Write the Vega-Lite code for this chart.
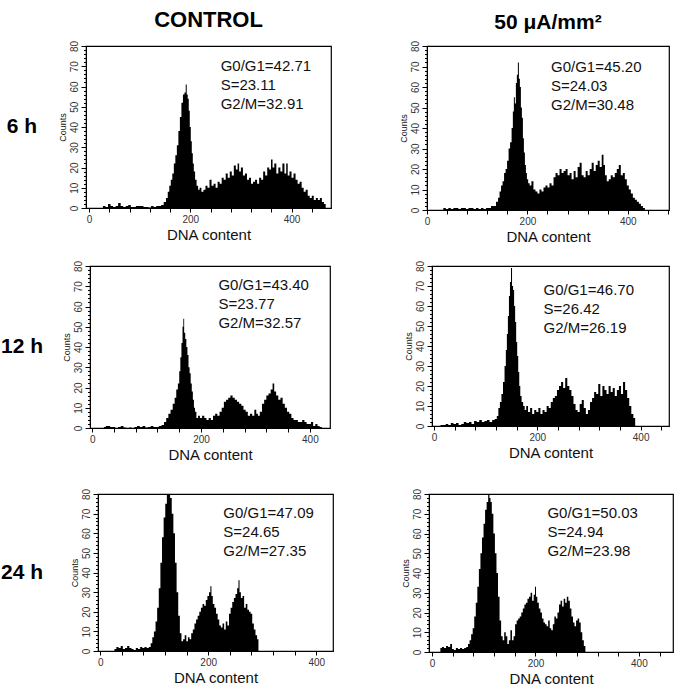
{
"$schema": "https://vega.github.io/schema/vega-lite/v6.json",
"background": "white",
"padding": {"left": 0, "top": 8, "right": 5, "bottom": 5},
"config": {
 "font": "Liberation Sans",
 "view": {"stroke": "black", "strokeWidth": 1.2},
 "axis": {"domainColor": "black", "tickColor": "black", "labelColor": "#333", "titleColor": "#111", "labelFontSize": 10, "grid": false, "titleFontWeight": "normal", "labelFont": "Liberation Sans", "titleFont": "Liberation Sans"},
 "axisY": {"titleFontSize": 9, "titlePadding": 2, "labelPadding": 2},
 "axisX": {"titleFontSize": 15, "titlePadding": 3, "labelPadding": 2},
 "title": {"fontWeight": "bold", "color": "black", "font": "Liberation Sans"}
},
"datasets": {
 "A": [{"x":25,"y":0},{"x":30,"y":1},{"x":35,"y":0.5},{"x":40,"y":2},{"x":45,"y":1},{"x":50,"y":0.5},{"x":55,"y":1},{"x":60,"y":2.5},{"x":65,"y":1},{"x":70,"y":0.5},{"x":75,"y":1},{"x":80,"y":1.5},{"x":85,"y":0.5},{"x":90,"y":0.5},{"x":95,"y":1},{"x":100,"y":1},{"x":105,"y":1},{"x":110,"y":0.5},{"x":115,"y":0.5},{"x":120,"y":0.2},{"x":125,"y":1},{"x":130,"y":0.5},{"x":135,"y":1},{"x":140,"y":1},{"x":145,"y":1.5},{"x":150,"y":3},{"x":154,"y":5},{"x":157,"y":8},{"x":160,"y":11},{"x":163,"y":14},{"x":166,"y":17},{"x":169,"y":22},{"x":172,"y":26},{"x":175,"y":31},{"x":178,"y":38},{"x":181,"y":45},{"x":184,"y":52},{"x":187,"y":56},{"x":190,"y":57},{"x":192,"y":61},{"x":194,"y":56},{"x":196,"y":54},{"x":198,"y":48},{"x":200,"y":40},{"x":202,"y":33},{"x":204,"y":27},{"x":206,"y":22},{"x":208,"y":18},{"x":211,"y":14},{"x":214,"y":11},{"x":217,"y":9},{"x":220,"y":10},{"x":224,"y":8},{"x":228,"y":9},{"x":232,"y":11},{"x":236,"y":10},{"x":240,"y":14},{"x":244,"y":11},{"x":248,"y":12},{"x":252,"y":10},{"x":256,"y":13},{"x":260,"y":12},{"x":264,"y":15},{"x":268,"y":14},{"x":272,"y":17},{"x":276,"y":15},{"x":280,"y":18},{"x":284,"y":16},{"x":288,"y":21},{"x":292,"y":19},{"x":295,"y":22},{"x":298,"y":18},{"x":302,"y":20},{"x":306,"y":16},{"x":310,"y":17},{"x":314,"y":14},{"x":318,"y":15},{"x":322,"y":12},{"x":326,"y":13},{"x":330,"y":14},{"x":334,"y":12},{"x":338,"y":15},{"x":342,"y":14},{"x":346,"y":18},{"x":350,"y":16},{"x":354,"y":20},{"x":358,"y":19},{"x":361,"y":24},{"x":364,"y":20},{"x":368,"y":22},{"x":372,"y":17},{"x":376,"y":20},{"x":380,"y":18},{"x":384,"y":22},{"x":388,"y":17},{"x":391,"y":22},{"x":394,"y":16},{"x":398,"y":18},{"x":402,"y":15},{"x":406,"y":17},{"x":410,"y":14},{"x":414,"y":12},{"x":418,"y":13},{"x":422,"y":10},{"x":426,"y":8},{"x":430,"y":9},{"x":434,"y":6},{"x":438,"y":5},{"x":442,"y":6},{"x":446,"y":4},{"x":450,"y":5},{"x":454,"y":4},{"x":458,"y":5},{"x":462,"y":3},{"x":466,"y":2},{"x":469,"y":0}],
 "B": [{"x":30,"y":0},{"x":35,"y":1},{"x":40,"y":0.5},{"x":45,"y":1},{"x":50,"y":0.5},{"x":55,"y":1},{"x":60,"y":1},{"x":65,"y":0.5},{"x":70,"y":1},{"x":75,"y":1},{"x":80,"y":0.5},{"x":85,"y":1},{"x":90,"y":1},{"x":95,"y":0.5},{"x":100,"y":1},{"x":105,"y":0.5},{"x":110,"y":1},{"x":115,"y":0.5},{"x":120,"y":1},{"x":125,"y":1},{"x":130,"y":2},{"x":135,"y":2},{"x":140,"y":4},{"x":143,"y":6},{"x":146,"y":9},{"x":149,"y":12},{"x":152,"y":14},{"x":155,"y":18},{"x":158,"y":20},{"x":161,"y":24},{"x":164,"y":30},{"x":167,"y":33},{"x":170,"y":40},{"x":172,"y":48},{"x":174,"y":55},{"x":176,"y":52},{"x":178,"y":62},{"x":180,"y":66},{"x":182,"y":72},{"x":184,"y":64},{"x":186,"y":60},{"x":188,"y":50},{"x":190,"y":45},{"x":192,"y":35},{"x":194,"y":28},{"x":196,"y":22},{"x":198,"y":18},{"x":200,"y":15},{"x":203,"y":13},{"x":206,"y":12},{"x":210,"y":14},{"x":214,"y":10},{"x":218,"y":9},{"x":222,"y":8},{"x":226,"y":10},{"x":230,"y":9},{"x":234,"y":11},{"x":238,"y":12},{"x":242,"y":11},{"x":246,"y":13},{"x":250,"y":12},{"x":254,"y":16},{"x":258,"y":18},{"x":262,"y":17},{"x":266,"y":20},{"x":270,"y":18},{"x":274,"y":19},{"x":278,"y":20},{"x":282,"y":17},{"x":286,"y":18},{"x":290,"y":15},{"x":294,"y":19},{"x":298,"y":16},{"x":302,"y":21},{"x":306,"y":23},{"x":310,"y":17},{"x":314,"y":16},{"x":318,"y":19},{"x":322,"y":17},{"x":326,"y":20},{"x":330,"y":23},{"x":334,"y":19},{"x":338,"y":22},{"x":342,"y":24},{"x":346,"y":21},{"x":350,"y":27},{"x":353,"y":22},{"x":356,"y":17},{"x":360,"y":14},{"x":364,"y":15},{"x":368,"y":17},{"x":372,"y":16},{"x":376,"y":18},{"x":380,"y":20},{"x":384,"y":22},{"x":388,"y":17},{"x":392,"y":18},{"x":396,"y":15},{"x":400,"y":12},{"x":404,"y":10},{"x":408,"y":8},{"x":412,"y":6},{"x":416,"y":5},{"x":420,"y":4},{"x":424,"y":3},{"x":428,"y":2},{"x":432,"y":1},{"x":436,"y":0}],
 "C": [{"x":20,"y":0},{"x":23,"y":0.5},{"x":27,"y":1},{"x":31,"y":1},{"x":35,"y":0.5},{"x":40,"y":0.5},{"x":45,"y":0},{"x":50,"y":0.5},{"x":55,"y":1},{"x":60,"y":0.3},{"x":65,"y":0},{"x":70,"y":0.3},{"x":75,"y":0},{"x":80,"y":0.5},{"x":85,"y":1},{"x":90,"y":0.5},{"x":95,"y":1},{"x":100,"y":0.3},{"x":105,"y":0.5},{"x":110,"y":1},{"x":115,"y":0.5},{"x":120,"y":0.5},{"x":125,"y":1},{"x":130,"y":1.5},{"x":134,"y":3},{"x":138,"y":5},{"x":142,"y":7},{"x":146,"y":9},{"x":150,"y":12},{"x":153,"y":15},{"x":156,"y":19},{"x":159,"y":22},{"x":161,"y":28},{"x":163,"y":35},{"x":165,"y":42},{"x":167,"y":50},{"x":168,"y":54},{"x":170,"y":47},{"x":172,"y":44},{"x":174,"y":40},{"x":176,"y":36},{"x":178,"y":30},{"x":180,"y":27},{"x":182,"y":22},{"x":184,"y":18},{"x":186,"y":14},{"x":188,"y":10},{"x":190,"y":8},{"x":193,"y":5},{"x":196,"y":6},{"x":200,"y":5},{"x":204,"y":6},{"x":208,"y":5},{"x":212,"y":4},{"x":216,"y":5},{"x":220,"y":4},{"x":224,"y":6},{"x":228,"y":7},{"x":232,"y":6},{"x":236,"y":8},{"x":240,"y":10},{"x":244,"y":13},{"x":248,"y":14},{"x":252,"y":15},{"x":256,"y":16},{"x":260,"y":15},{"x":264,"y":14},{"x":268,"y":13},{"x":272,"y":12},{"x":276,"y":11},{"x":280,"y":9},{"x":284,"y":8},{"x":288,"y":6},{"x":292,"y":7},{"x":296,"y":6},{"x":300,"y":9},{"x":303,"y":7},{"x":306,"y":6},{"x":310,"y":8},{"x":314,"y":12},{"x":318,"y":14},{"x":322,"y":16},{"x":326,"y":17},{"x":330,"y":19},{"x":333,"y":22},{"x":336,"y":18},{"x":340,"y":16},{"x":344,"y":14},{"x":348,"y":15},{"x":352,"y":12},{"x":356,"y":10},{"x":360,"y":8},{"x":364,"y":7},{"x":368,"y":5},{"x":372,"y":4},{"x":376,"y":4},{"x":380,"y":3},{"x":384,"y":3},{"x":388,"y":4},{"x":392,"y":3},{"x":396,"y":2},{"x":400,"y":2},{"x":404,"y":3},{"x":408,"y":1},{"x":412,"y":2},{"x":416,"y":1},{"x":420,"y":0.5},{"x":424,"y":0}],
 "D": [{"x":10,"y":0},{"x":15,"y":0.5},{"x":20,"y":0.5},{"x":25,"y":1},{"x":30,"y":0.5},{"x":35,"y":1.5},{"x":40,"y":1},{"x":45,"y":1.5},{"x":50,"y":0.5},{"x":55,"y":1},{"x":60,"y":2},{"x":65,"y":1.5},{"x":70,"y":2},{"x":75,"y":1},{"x":80,"y":2.5},{"x":85,"y":2},{"x":90,"y":3},{"x":95,"y":2},{"x":100,"y":2.5},{"x":105,"y":3},{"x":110,"y":2},{"x":115,"y":3},{"x":120,"y":3.5},{"x":123,"y":5},{"x":126,"y":9},{"x":129,"y":12},{"x":132,"y":16},{"x":135,"y":22},{"x":138,"y":30},{"x":140,"y":38},{"x":142,"y":46},{"x":144,"y":55},{"x":146,"y":65},{"x":148,"y":72},{"x":150,"y":79},{"x":152,"y":70},{"x":154,"y":68},{"x":156,"y":60},{"x":158,"y":52},{"x":160,"y":42},{"x":162,"y":35},{"x":164,"y":27},{"x":166,"y":20},{"x":168,"y":15},{"x":171,"y":12},{"x":174,"y":10},{"x":177,"y":8},{"x":180,"y":10},{"x":184,"y":7},{"x":188,"y":9},{"x":192,"y":6},{"x":196,"y":8},{"x":200,"y":7},{"x":204,"y":9},{"x":208,"y":6},{"x":212,"y":8},{"x":216,"y":7},{"x":220,"y":10},{"x":224,"y":9},{"x":228,"y":12},{"x":232,"y":14},{"x":236,"y":15},{"x":240,"y":18},{"x":244,"y":20},{"x":248,"y":22},{"x":252,"y":19},{"x":256,"y":24},{"x":260,"y":20},{"x":264,"y":18},{"x":268,"y":15},{"x":272,"y":11},{"x":276,"y":8},{"x":280,"y":7},{"x":284,"y":11},{"x":288,"y":13},{"x":292,"y":9},{"x":296,"y":6},{"x":300,"y":8},{"x":304,"y":12},{"x":308,"y":14},{"x":312,"y":17},{"x":316,"y":16},{"x":320,"y":21},{"x":324,"y":15},{"x":328,"y":20},{"x":332,"y":18},{"x":336,"y":16},{"x":340,"y":20},{"x":344,"y":17},{"x":348,"y":19},{"x":352,"y":15},{"x":356,"y":18},{"x":360,"y":20},{"x":364,"y":16},{"x":368,"y":22},{"x":372,"y":18},{"x":376,"y":14},{"x":380,"y":10},{"x":384,"y":6},{"x":388,"y":4},{"x":391,"y":0}],
 "E": [{"x":25,"y":0},{"x":28,"y":1},{"x":32,"y":2},{"x":36,"y":1.5},{"x":40,"y":2.5},{"x":44,"y":1},{"x":48,"y":1.5},{"x":52,"y":2.5},{"x":56,"y":1.5},{"x":60,"y":1},{"x":64,"y":0.5},{"x":68,"y":1.5},{"x":72,"y":1},{"x":76,"y":2},{"x":80,"y":1.5},{"x":84,"y":2},{"x":88,"y":1.5},{"x":92,"y":2},{"x":95,"y":4},{"x":98,"y":7},{"x":101,"y":10},{"x":104,"y":15},{"x":107,"y":22},{"x":110,"y":32},{"x":113,"y":45},{"x":116,"y":58},{"x":119,"y":68},{"x":122,"y":75},{"x":125,"y":80},{"x":128,"y":80},{"x":131,"y":78},{"x":134,"y":70},{"x":137,"y":60},{"x":140,"y":45},{"x":143,"y":30},{"x":146,"y":18},{"x":149,"y":9},{"x":152,"y":5},{"x":155,"y":6},{"x":158,"y":8},{"x":161,"y":5},{"x":164,"y":7},{"x":167,"y":6},{"x":170,"y":9},{"x":173,"y":11},{"x":176,"y":14},{"x":179,"y":16},{"x":182,"y":18},{"x":185,"y":20},{"x":188,"y":22},{"x":191,"y":24},{"x":194,"y":23},{"x":197,"y":26},{"x":200,"y":28},{"x":203,"y":30},{"x":205,"y":33},{"x":207,"y":28},{"x":210,"y":24},{"x":213,"y":22},{"x":216,"y":19},{"x":219,"y":16},{"x":222,"y":13},{"x":225,"y":12},{"x":228,"y":14},{"x":231,"y":11},{"x":234,"y":15},{"x":237,"y":13},{"x":240,"y":19},{"x":243,"y":22},{"x":246,"y":25},{"x":249,"y":27},{"x":252,"y":29},{"x":255,"y":32},{"x":257,"y":36},{"x":259,"y":30},{"x":262,"y":27},{"x":265,"y":28},{"x":268,"y":22},{"x":271,"y":24},{"x":274,"y":21},{"x":277,"y":20},{"x":280,"y":19},{"x":283,"y":14},{"x":286,"y":11},{"x":289,"y":8},{"x":292,"y":6},{"x":294,"y":0}],
 "F": [{"x":15,"y":0},{"x":17,"y":2},{"x":21,"y":2.5},{"x":25,"y":2},{"x":29,"y":3},{"x":33,"y":2.5},{"x":37,"y":4},{"x":40,"y":1.5},{"x":44,"y":1},{"x":48,"y":2},{"x":52,"y":1.5},{"x":56,"y":2},{"x":60,"y":1.5},{"x":64,"y":2},{"x":68,"y":2.5},{"x":71,"y":4},{"x":74,"y":6},{"x":77,"y":9},{"x":80,"y":12},{"x":83,"y":18},{"x":86,"y":25},{"x":89,"y":33},{"x":92,"y":42},{"x":95,"y":50},{"x":98,"y":58},{"x":101,"y":65},{"x":104,"y":72},{"x":107,"y":76},{"x":110,"y":80},{"x":112,"y":78},{"x":114,"y":76},{"x":117,"y":70},{"x":120,"y":60},{"x":123,"y":50},{"x":126,"y":40},{"x":129,"y":28},{"x":132,"y":16},{"x":135,"y":8},{"x":138,"y":6},{"x":141,"y":10},{"x":144,"y":8},{"x":147,"y":4},{"x":150,"y":6},{"x":153,"y":11},{"x":156,"y":6},{"x":159,"y":8},{"x":162,"y":14},{"x":165,"y":16},{"x":168,"y":17},{"x":171,"y":18},{"x":174,"y":20},{"x":177,"y":22},{"x":180,"y":24},{"x":183,"y":25},{"x":186,"y":27},{"x":189,"y":28},{"x":192,"y":30},{"x":195,"y":26},{"x":198,"y":29},{"x":200,"y":33},{"x":202,"y":28},{"x":205,"y":25},{"x":208,"y":22},{"x":211,"y":20},{"x":214,"y":17},{"x":217,"y":15},{"x":220,"y":14},{"x":223,"y":13},{"x":226,"y":16},{"x":229,"y":12},{"x":232,"y":11},{"x":235,"y":14},{"x":238,"y":18},{"x":241,"y":17},{"x":244,"y":20},{"x":247,"y":24},{"x":250,"y":26},{"x":253,"y":23},{"x":256,"y":27},{"x":259,"y":25},{"x":262,"y":28},{"x":265,"y":26},{"x":268,"y":22},{"x":271,"y":18},{"x":274,"y":15},{"x":277,"y":13},{"x":280,"y":16},{"x":283,"y":17},{"x":286,"y":15},{"x":289,"y":10},{"x":292,"y":6},{"x":295,"y":3},{"x":298,"y":0}]
},
"vconcat": [
 {"spacing": 15, "hconcat": [
  {"width": 40, "height": 162, "title": {"text": " ", "fontSize": 22, "offset": 8}, "view": {"stroke": null}, "data": {"values": [{"t": "6 h"}]}, "mark": {"type": "text", "fontSize": 21, "fontWeight": "bold", "color": "black"}, "encoding": {"text": {"field": "t"}}},
  {"spacing": 66, "hconcat": [
   {"width": 245, "height": 162, "title": {"text": "CONTROL", "fontSize": 22, "offset": 8}, "resolve": {"axis": {"x": "independent"}}, "layer": [
    {"data": {"name": "A"}, "mark": {"type": "area", "interpolate": "step", "color": "black", "clip": true},
     "encoding": {"x": {"field": "x", "type": "quantitative", "scale": {"domain": [-6, 478], "nice": false, "zero": false}, "axis": {"title": "DNA content", "values": [0, 200, 400], "tickSize": 4, "labelFlush": false}},
      "y": {"field": "y", "type": "quantitative", "scale": {"domain": [0, 80], "nice": false}, "axis": {"title": "Counts", "tickCount": 40, "labelExpr": "datum.value % 10 === 0 ? datum.label : ''", "tickSize": {"condition": {"test": "datum.value % 10 === 0", "value": 5}, "value": 2.5}, "labelAngle": 270, "labelOverlap": false, "labelFlush": false}}}},
    {"data": {"values": [{"label": "G0/G1=42.71\nS=23.11\nG2/M=32.91"}]}, "mark": {"type": "text", "align": "left", "baseline": "alphabetic", "fontSize": 15, "lineHeight": 19, "lineBreak": "\n", "color": "#111"},
     "encoding": {"x": {"datum": 260, "type": "quantitative", "axis": {"orient": "bottom", "values": [40,80,120,160,240,280,320,360,440], "labels": false, "title": null, "domain": false, "tickSize": 4}}, "y": {"datum": 67.7}, "text": {"field": "label"}}}
   ]},
   {"width": 242, "height": 164, "title": {"text": "50 μA/mm²", "fontSize": 21, "offset": 7}, "resolve": {"axis": {"x": "independent"}}, "layer": [
    {"data": {"name": "B"}, "mark": {"type": "area", "interpolate": "step", "color": "black", "clip": true},
     "encoding": {"x": {"field": "x", "type": "quantitative", "scale": {"domain": [0, 482], "nice": false, "zero": false}, "axis": {"title": "DNA content", "values": [0, 200, 400], "tickSize": 4, "labelFlush": false}},
      "y": {"field": "y", "type": "quantitative", "scale": {"domain": [0, 80], "nice": false}, "axis": {"title": "Counts", "tickCount": 40, "labelExpr": "datum.value % 10 === 0 ? datum.label : ''", "tickSize": {"condition": {"test": "datum.value % 10 === 0", "value": 5}, "value": 2.5}, "labelAngle": 270, "labelOverlap": false, "labelFlush": false}}}},
    {"data": {"values": [{"label": "G0/G1=45.20\nS=24.03\nG2/M=30.48"}]}, "mark": {"type": "text", "align": "left", "baseline": "alphabetic", "fontSize": 15, "lineHeight": 19, "lineBreak": "\n", "color": "#111"},
     "encoding": {"x": {"datum": 247, "type": "quantitative", "axis": {"orient": "bottom", "values": [40,80,120,160,240,280,320,360,440,480], "labels": false, "title": null, "domain": false, "tickSize": 4}}, "y": {"datum": 67.2}, "text": {"field": "label"}}}
   ]}
  ]}
 ]},
 {"vconcat": [
 {"spacing": 17, "hconcat": [
  {"width": 40, "height": 162, "view": {"stroke": null}, "data": {"values": [{"t": "12 h"}]}, "mark": {"type": "text", "fontSize": 21, "fontWeight": "bold", "color": "black"}, "encoding": {"text": {"field": "t"}}},
  {"spacing": 72, "hconcat": [
   {"width": 240, "height": 162, "resolve": {"axis": {"x": "independent"}}, "layer": [
    {"data": {"name": "C"}, "mark": {"type": "area", "interpolate": "step", "color": "black", "clip": true},
     "encoding": {"x": {"field": "x", "type": "quantitative", "scale": {"domain": [-4, 437], "nice": false, "zero": false}, "axis": {"title": "DNA content", "values": [0, 200, 400], "tickSize": 4, "labelFlush": false}},
      "y": {"field": "y", "type": "quantitative", "scale": {"domain": [0, 80], "nice": false}, "axis": {"title": "Counts", "tickCount": 40, "labelExpr": "datum.value % 10 === 0 ? datum.label : ''", "tickSize": {"condition": {"test": "datum.value % 10 === 0", "value": 5}, "value": 2.5}, "labelAngle": 270, "labelOverlap": false, "labelFlush": false}}}},
    {"data": {"values": [{"label": "G0/G1=43.40\nS=23.77\nG2/M=32.57"}]}, "mark": {"type": "text", "align": "left", "baseline": "alphabetic", "fontSize": 15, "lineHeight": 19, "lineBreak": "\n", "color": "#111"},
     "encoding": {"x": {"datum": 232, "type": "quantitative", "axis": {"orient": "bottom", "values": [40,80,120,160,240,280,320,360], "labels": false, "title": null, "domain": false, "tickSize": 4}}, "y": {"datum": 68.2}, "text": {"field": "label"}}}
   ]},
   {"width": 237, "height": 160, "resolve": {"axis": {"x": "independent"}}, "layer": [
    {"data": {"name": "D"}, "mark": {"type": "area", "interpolate": "step", "color": "black", "clip": true},
     "encoding": {"x": {"field": "x", "type": "quantitative", "scale": {"domain": [-4, 455], "nice": false, "zero": false}, "axis": {"title": "DNA content", "values": [0, 200, 400], "tickSize": 4, "labelFlush": false}},
      "y": {"field": "y", "type": "quantitative", "scale": {"domain": [0, 80], "nice": false}, "axis": {"title": "Counts", "tickCount": 40, "labelExpr": "datum.value % 10 === 0 ? datum.label : ''", "tickSize": {"condition": {"test": "datum.value % 10 === 0", "value": 5}, "value": 2.5}, "labelAngle": 270, "labelOverlap": false, "labelFlush": false}}}},
    {"data": {"values": [{"label": "G0/G1=46.70\nS=26.42\nG2/M=26.19"}]}, "mark": {"type": "text", "align": "left", "baseline": "alphabetic", "fontSize": 15, "lineHeight": 19, "lineBreak": "\n", "color": "#111"},
     "encoding": {"x": {"datum": 212, "type": "quantitative", "axis": {"orient": "bottom", "values": [40,80,120,160,240,280,320,360,440], "labels": false, "title": null, "domain": false, "tickSize": 4}}, "y": {"datum": 65.5}, "text": {"field": "label"}}}
   ]}
  ]}
 ]},
 {"spacing": 25, "hconcat": [
  {"width": 40, "height": 157, "view": {"stroke": null}, "data": {"values": [{"t": "24 h"}]}, "mark": {"type": "text", "fontSize": 21, "fontWeight": "bold", "color": "black"}, "encoding": {"text": {"field": "t"}}},
  {"spacing": 66, "hconcat": [
   {"width": 235, "height": 157, "resolve": {"axis": {"x": "independent"}}, "layer": [
    {"data": {"name": "E"}, "mark": {"type": "area", "interpolate": "step", "color": "black", "clip": true},
     "encoding": {"x": {"field": "x", "type": "quantitative", "scale": {"domain": [-4, 431], "nice": false, "zero": false}, "axis": {"title": "DNA content", "values": [0, 200, 400], "tickSize": 4, "labelFlush": false}},
      "y": {"field": "y", "type": "quantitative", "scale": {"domain": [0, 80], "nice": false}, "axis": {"title": "Counts", "tickCount": 40, "labelExpr": "datum.value % 10 === 0 ? datum.label : ''", "tickSize": {"condition": {"test": "datum.value % 10 === 0", "value": 5}, "value": 2.5}, "labelAngle": 270, "labelOverlap": false, "labelFlush": false}}}},
    {"data": {"values": [{"label": "G0/G1=47.09\nS=24.65\nG2/M=27.35"}]}, "mark": {"type": "text", "align": "left", "baseline": "alphabetic", "fontSize": 15, "lineHeight": 19, "lineBreak": "\n", "color": "#111"},
     "encoding": {"x": {"datum": 228, "type": "quantitative", "axis": {"orient": "bottom", "values": [40,80,120,160,240,280,320,360], "labels": false, "title": null, "domain": false, "tickSize": 4}}, "y": {"datum": 67.9}, "text": {"field": "label"}}}
   ]},
   {"width": 244, "height": 158, "resolve": {"axis": {"x": "independent"}}, "layer": [
    {"data": {"name": "F"}, "mark": {"type": "area", "interpolate": "step", "color": "black", "clip": true},
     "encoding": {"x": {"field": "x", "type": "quantitative", "scale": {"domain": [-6, 466], "nice": false, "zero": false}, "axis": {"title": "DNA content", "values": [0, 200, 400], "tickSize": 4, "labelFlush": false}},
      "y": {"field": "y", "type": "quantitative", "scale": {"domain": [0, 80], "nice": false}, "axis": {"title": "Counts", "tickCount": 40, "labelExpr": "datum.value % 10 === 0 ? datum.label : ''", "tickSize": {"condition": {"test": "datum.value % 10 === 0", "value": 5}, "value": 2.5}, "labelAngle": 270, "labelOverlap": false, "labelFlush": false}}}},
    {"data": {"values": [{"label": "G0/G1=50.03\nS=24.94\nG2/M=23.98"}]}, "mark": {"type": "text", "align": "left", "baseline": "alphabetic", "fontSize": 15, "lineHeight": 19, "lineBreak": "\n", "color": "#111"},
     "encoding": {"x": {"datum": 223, "type": "quantitative", "axis": {"orient": "bottom", "values": [40,80,120,160,240,280,320,360,440], "labels": false, "title": null, "domain": false, "tickSize": 4}}, "y": {"datum": 67.7}, "text": {"field": "label"}}}
   ]}
  ]}
 ]}
 ], "spacing": 24}
],
"spacing": 14
}
